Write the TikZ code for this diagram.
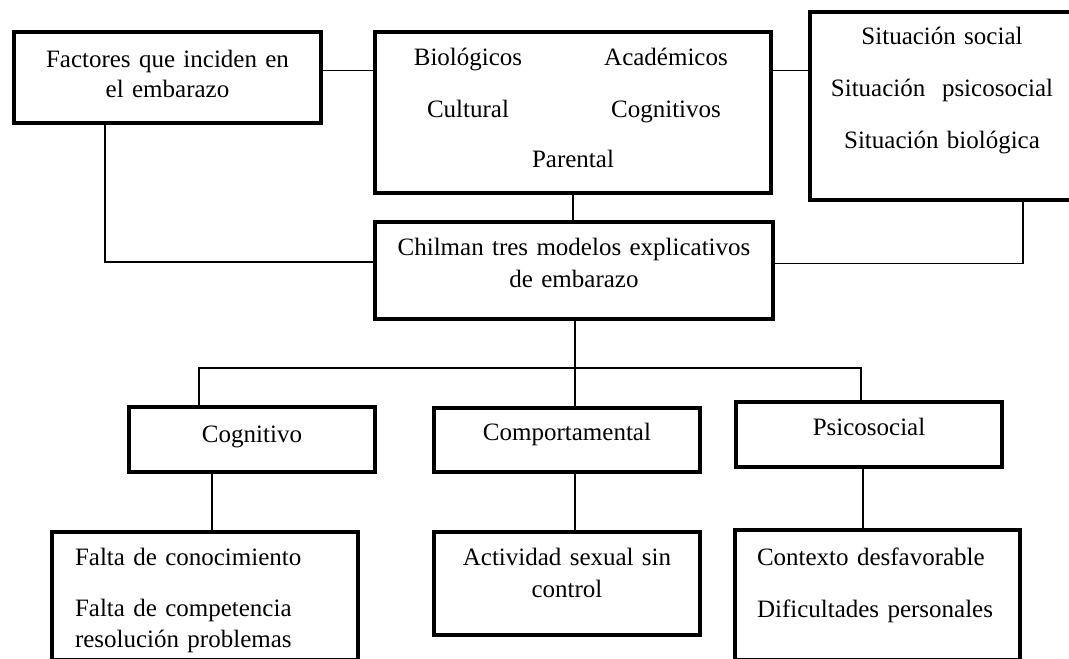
\documentclass[tikz,border=0pt]{standalone}
\usepackage{fontspec}
\setmainfont{Liberation Serif}
\usepackage{tikz}

\begin{document}
\begin{tikzpicture}[
  x=1pt, y=-1pt,
  font=\fontsize{25}{31}\selectfont,
  box/.style={draw, line width=4.5pt, align=center, inner sep=0pt, text height=18pt},
  leftbox/.style={box, align=left, inner xsep=23pt},
  link/.style={line width=1.3pt}
]
\useasboundingbox (0,0) rectangle (1069,659);
\clip (0,0) rectangle (1069,659);

\node[box, minimum width=307pt, minimum height=91pt, text width=307pt, text depth=39pt] (fact) at (167.5,77.5)
  {Factores que inciden en\\[-1pt]el embarazo};
\node[box, minimum width=396pt, minimum height=161pt, text width=396pt, text depth=113pt] (groups) at (573,112.5)
  {\makebox[186pt]{Biológicos}\makebox[210pt]{Académicos}\\[21pt]
   \makebox[186pt]{Cultural}\makebox[210pt]{Cognitivos}\\[19pt]
   Parental};
\node[box, minimum width=280pt, minimum height=188pt, inner xsep=0pt, text width=264pt, text depth=142pt] (situ) at (950,106)
  {\hspace*{-16pt}Situación social\\[21pt]\hspace*{-16pt}Situación~~psicosocial\\[21pt]\hspace*{-16pt}Situación biológica};
\node[box, minimum width=398pt, minimum height=97pt, text width=398pt, text depth=49pt] (chil) at (574,270.5)
  {Chilman tres modelos explicativos\\[1pt]de embarazo};

\node[box, minimum width=246pt, minimum height=65pt, text depth=13pt] (cog) at (252,439.5) {Cognitivo};
\node[box, minimum width=266pt, minimum height=64pt, text depth=18pt] (comp) at (567,440) {Comportamental};
\node[box, minimum width=266pt, minimum height=65pt, text depth=17pt] (psico) at (869,434.5) {Psicosocial};

\node[leftbox, minimum width=306pt, minimum height=128pt, text width=260pt, text depth=80pt] (cogl) at (205,596)
  {Falta de conocimiento\\[20pt]Falta de competencia\\resolución problemas};
\node[box, minimum width=266pt, minimum height=103pt, text width=266pt, text depth=55pt] (compl) at (567,583.5)
  {Actividad sexual sin\\[1pt]control};
\node[leftbox, minimum width=285pt, minimum height=130pt, inner xsep=22pt, text width=241pt, text depth=78pt] (psicol) at (877.5,595)
  {Contexto desfavorable\\[21pt]Dificultades personales};

\draw[link] ([yshift=7pt]fact.east) -- ([yshift=7pt]fact.east -| groups.west);
\draw[link] ([yshift=7pt]fact.east -| groups.east) -- ([yshift=7pt]fact.east -| situ.west);
\draw[link] (groups.south) -- (groups.south |- chil.north);
\draw[link] ([xshift=-62.5pt]fact.south) |- ([yshift=8.5pt]chil.west);
\draw[link] ([xshift=73pt]situ.south) |- ([yshift=7pt]chil.east);
\coordinate (bus) at (575,368);
\draw[link] ([xshift=1pt]chil.south) -- ([xshift=1pt]chil.south |- comp.north);
\draw[link] ([xshift=-53pt]cog.north) |- (bus) -| ([xshift=-8pt]psico.north);
\draw[link] ([xshift=-40pt]cog.south) -- ([xshift=-40pt]cog.south |- cogl.north);
\draw[link] ([xshift=1pt]chil.south |- comp.south) -- ([xshift=1pt]chil.south |- compl.north);
\draw[link] ([xshift=-6pt]psico.south) -- ([xshift=-6pt]psico.south |- psicol.north);
\end{tikzpicture}
\end{document}
